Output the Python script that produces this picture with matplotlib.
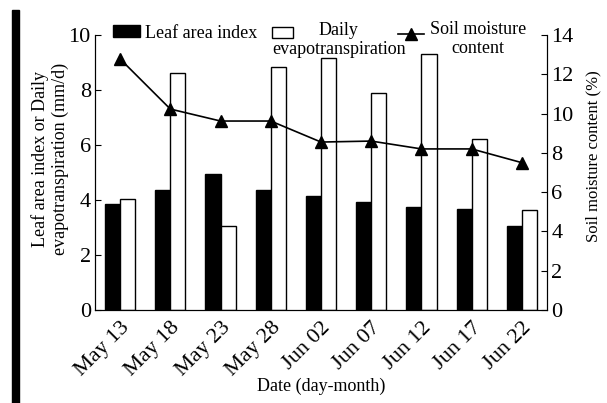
import matplotlib
matplotlib.use("Agg")
import matplotlib.pyplot as plt
import numpy as np
from matplotlib.patches import Rectangle
from matplotlib.legend import Legend

dates = ["May 13", "May 18", "May 23", "May 28", "Jun 02", "Jun 07", "Jun 12", "Jun 17", "Jun 22"]
lai = [3.85, 4.35, 4.95, 4.35, 4.15, 3.93, 3.75, 3.67, 3.05]
et = [4.05, 8.62, 3.05, 8.83, 9.16, 7.89, 9.31, 6.22, 3.64]
soil = [12.78, 10.23, 9.62, 9.62, 8.55, 8.6, 8.2, 8.2, 7.5]

plt.rcParams['font.family'] = ['Liberation Serif', 'DejaVu Serif']

W, H = 607, 403
fig = plt.figure(figsize=(W/100, H/100), dpi=100)
ax = fig.add_axes([95/W, 1-310/H, (547-95)/W, (310-35)/H])
x = np.arange(len(dates))
w = 0.3
b1 = ax.bar(x - w/2, lai, w, color='black', edgecolor='black', linewidth=1)
b2 = ax.bar(x + w/2, et, w, color='white', edgecolor='black', linewidth=1)
ax.set_xlim(-0.5, len(dates) - 0.5)
ax.set_ylim(0, 10)
ax.set_yticks([0, 2, 4, 6, 8, 10])
ax.set_xticks(x)
ax.set_xticklabels(dates, rotation=45, ha='right', rotation_mode='anchor', fontsize=16)
ax.tick_params(axis='x', length=0, pad=6)
ax.tick_params(axis='y', direction='in', length=4, labelsize=16, pad=3)
ax.spines['top'].set_visible(False)
ax.set_ylabel('Leaf area index or Daily\nevapotranspiration (mm/d)', fontsize=13)
ax.yaxis.set_label_coords(-0.058, 0.55)
ax.set_xlabel('Date (day-month)', fontsize=13)
ax.xaxis.set_label_coords(0.5, -0.246)

ax2 = ax.twinx()
ln, = ax2.plot(x, soil, color='black', marker='^', markersize=8, linewidth=1.2)
ax2.set_ylim(0, 14)
ax2.set_yticks([0, 2, 4, 6, 8, 10, 12, 14])
ax2.tick_params(axis='y', direction='in', length=4, labelsize=16, pad=3)
ax2.spines['top'].set_visible(False)
ax2.set_ylabel('Soil moisture content (%)', fontsize=12)
ax2.yaxis.set_label_coords(1.084, 0.56)

fs = 13
px = fs * 100 / 72  # font size in pixels

def add_leg(handle, label, left_px, cy_px, hl_px, pad_px, shift_pt=0.0):
    leg = Legend(ax2, [handle], [label], loc='center left',
                 bbox_to_anchor=(left_px/W, 1 - cy_px/H), bbox_transform=fig.transFigure,
                 frameon=False, fontsize=fs, handlelength=hl_px/px,
                 handletextpad=pad_px/px, borderpad=0, borderaxespad=0,
                 handleheight=0.62)
    for t in leg.get_texts():
        t.set_multialignment('center')
    if shift_pt:
        for h in leg.legend_handles:
            if isinstance(h, Rectangle):
                h.set_y(h.get_y() + shift_pt)
            else:
                h.set_ydata(np.asarray(h.get_ydata()) + shift_pt)
    ax2.add_artist(leg)
    return leg

add_leg(b1, 'Leaf area index', 113, 33, 27, 5)
add_leg(b2, 'Daily\nevapotranspiration', 272, 40, 21, -21, shift_pt=5.5)
add_leg(ln, 'Soil moisture\ncontent', 398, 39, 26, 6, shift_pt=4.0)

fig.patches.append(Rectangle((12/W, 0), 7/W, 1 - 10/H, transform=fig.transFigure,
                             color='black', zorder=10))

fig.savefig('out.png', dpi=100)
